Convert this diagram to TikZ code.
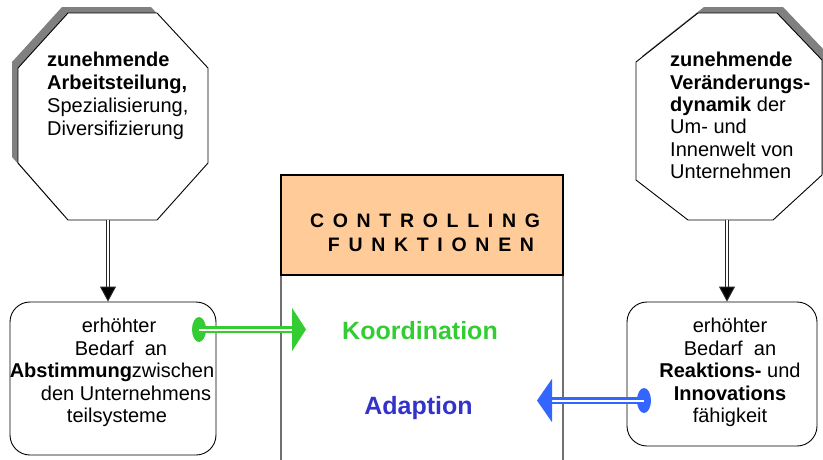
\documentclass[tikz,border=0pt]{standalone}
\usepackage{fontspec}
\setmainfont{Liberation Sans}
\usetikzlibrary{arrows.meta,shapes.geometric,calc}
\definecolor{hdrfill}{HTML}{FFCC99}
\definecolor{kgreen}{HTML}{33CC33}
\definecolor{ablue}{HTML}{3333CC}
\definecolor{arblue}{HTML}{3366FF}
\definecolor{colgray}{HTML}{707070}
\definecolor{shadowgray}{HTML}{808080}
\newcommand\lsp{\hspace{8.7pt}}
\tikzset{
  octa/.style={draw=black, line width=0.9pt, fill=white, line join=miter},
  octshadow/.style={fill=shadowgray, draw=none},
  otext/.style={inner sep=0pt, align=left, font=\fontsize{20}{23}\selectfont},
  otextb/.style={inner sep=0pt, align=left, font=\fontsize{20}{22.4}\selectfont},
  btext/.style={inner sep=0pt, align=center, font=\fontsize{20}{22.5}\selectfont},
  rbox/.style={draw=black, line width=0.9pt, rounded corners=20pt, fill=white, inner sep=0pt},
  hdr/.style={inner sep=0pt, font=\fontsize{19.5}{19.5}\selectfont\bfseries},
  func/.style={inner sep=0pt, font=\fontsize{25}{25}\selectfont\bfseries},
  darr/.style={draw=black!85, double=white, line width=1pt, double distance=1.5pt,
    -{Triangle[width=16pt,length=15pt,fill=black]}},
  garr/.style={draw=kgreen, double=white, line width=2.5pt, double distance=2pt,
    -{Triangle[width=43pt,length=14pt,fill=kgreen]}},
  barr/.style={draw=arblue, double=white, line width=2.5pt, double distance=2pt,
    -{Triangle[width=43pt,length=15pt,fill=arblue]}},
  gdotst/.style={ellipse, fill=kgreen, draw=none, minimum width=14pt, minimum height=25pt, inner sep=0pt},
  bdotst/.style={ellipse, fill=arblue, draw=none, minimum width=14pt, minimum height=25pt, inner sep=0pt}
}
\begin{document}
\begin{tikzpicture}[x=1pt,y=-1pt]
\useasboundingbox (0,0) rectangle (823,459);

% left octagon with shadow
\fill[octshadow] (62,7) -- (151,7) -- (202,62) -- (202,157) -- (151,214) -- (62,214) -- (12,157) -- (12,62) -- cycle;
\draw[octa] (68,13) -- (157,13) -- (208,68) -- (208,163) -- (157,220) -- (68,220) -- (18,163) -- (18,68) -- cycle;
\coordinate (loct) at (108,220);
\node[otext, anchor=north west] (ltext) at (47,52) {\textbf{zunehmende}\\\textbf{Arbeitsteilung,}\\Spezialisierung,\\Diversifizierung};

% right octagon with shadow
\fill[octshadow] (704,7) -- (783,7) -- (828,54) -- (828,169) -- (779,214) -- (694,214) -- (642,174) -- (642,56) -- cycle;
\draw[octa] (698,13) -- (777,13) -- (822,60) -- (822,175) -- (773,220) -- (688,220) -- (636,180) -- (636,62) -- cycle;
\coordinate (roct) at (727,220);
\node[otextb, anchor=north west] (rtext) at (670,52) {\textbf{zunehmende}\\\textbf{Veränderungs-}\\\textbf{dynamik} der\\Um- und\\Innenwelt von\\Unternehmen};

% centre column
\draw[colgray, line width=1.8pt] (281,275) -- (281,462);
\draw[colgray, line width=1.8pt] (563,275) -- (563,462);
\node[draw=black, line width=1.8pt, fill=hdrfill, minimum width=282pt, minimum height=100pt, inner sep=0pt] (hdrbox) at (422,225) {};
\node[hdr, anchor=base] (hdr1) at (425,227) {C\lsp O\lsp N\lsp T\lsp R\lsp O\lsp L\lsp L\lsp I\lsp N\lsp G};
\node[hdr, anchor=base] (hdr2) at (431,251) {F\lsp U\lsp N\lsp K\lsp T\lsp I\lsp O\lsp N\lsp E\lsp N};
\node[func, text=kgreen, anchor=base] (koord) at (420,339) {Koordination};
\node[func, text=ablue, anchor=base] (adapt) at (418.5,414.5) {Adaption};

% rounded boxes
\node[rbox, minimum width=206pt, minimum height=153pt] (lbox) at (113,378.5) {};
\node[btext, anchor=north] (lbtext) at (112,318) {\hspace*{14pt}erhöhter\\\hspace*{18pt}Bedarf\ \ an\\\textbf{Abstimmung}zwischen\\\hspace*{28pt}den Unternehmens\\\hspace*{10pt}teilsysteme};
\node[rbox, minimum width=190pt, minimum height=144pt] (rbox) at (722,374) {};
\node[btext, anchor=north] (rbtext) at (730,318) {erhöhter\\Bedarf\ \ an\\\textbf{Reaktions-} und\\\textbf{Innovations}\\fähigkeit};

% vertical arrows
\draw[darr] (loct) -- (loct |- lbox.north);
\draw[darr] (roct) -- (roct |- rbox.north);

% horizontal arrows
\node[gdotst] (gdot) at (199,329.5) {};
\coordinate (gtip) at (306,329.5);
\draw[garr] (gdot.center) -- (gtip);
\node[bdotst] (bdot) at (644,400.5) {};
\coordinate (btip) at (537,400.5);
\draw[barr] (bdot.center) -- (btip);
\end{tikzpicture}
\end{document}
